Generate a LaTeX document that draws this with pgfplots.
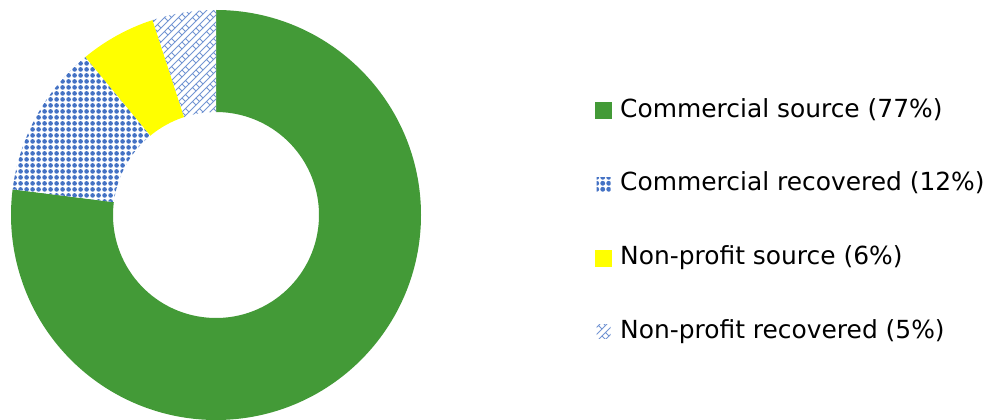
\documentclass[border=0pt]{standalone}
\usepackage{pgfplots}
\pgfplotsset{compat=1.18}
\usepackage{pgfplotstable}
\usepackage{fontspec}
\setmainfont{DejaVu Sans}
\usetikzlibrary{patterns}

\definecolor{csource}{RGB}{67,154,55}
\definecolor{cblue}{RGB}{68,114,196}
\definecolor{cyellow}{RGB}{255,255,0}

% blue dotted fill
\pgfdeclarepatternformonly{bluedots}{\pgfpointorigin}{\pgfpoint{6bp}{6bp}}{\pgfpoint{6bp}{6bp}}{%
  \pgfpathcircle{\pgfpoint{3bp}{3bp}}{2.7bp}
  \pgfusepath{fill}}
% diagonal brick hatch
\pgfdeclarepatternformonly{brick}{\pgfpoint{-1bp}{-1bp}}{\pgfpoint{15bp}{15bp}}{\pgfpoint{14bp}{14bp}}{%
  \pgfsetlinewidth{0.8bp}
  \pgfpathmoveto{\pgfpoint{0bp}{0bp}}\pgfpathlineto{\pgfpoint{14bp}{14bp}}
  \pgfpathmoveto{\pgfpoint{0bp}{7bp}}\pgfpathlineto{\pgfpoint{7bp}{14bp}}
  \pgfpathmoveto{\pgfpoint{7bp}{0bp}}\pgfpathlineto{\pgfpoint{14bp}{7bp}}
  \pgfpathmoveto{\pgfpoint{7bp}{0bp}}\pgfpathlineto{\pgfpoint{3.5bp}{3.5bp}}
  \pgfpathmoveto{\pgfpoint{14bp}{7bp}}\pgfpathlineto{\pgfpoint{10.5bp}{10.5bp}}
  \pgfpathmoveto{\pgfpoint{3.5bp}{10.5bp}}\pgfpathlineto{\pgfpoint{0bp}{14bp}}
  \pgfusepath{stroke}}

\pgfplotstableread{
value
77
12
6
5
}\shares

% cumulative angles, clockwise from the top
\pgfplotstablegetelem{0}{value}\of\shares \let\va\pgfplotsretval
\pgfplotstablegetelem{1}{value}\of\shares \let\vb\pgfplotsretval
\pgfplotstablegetelem{2}{value}\of\shares \let\vc\pgfplotsretval
\pgfplotstablegetelem{3}{value}\of\shares \let\vd\pgfplotsretval
\pgfmathsetmacro\aA{90}
\pgfmathsetmacro\aB{\aA-3.6*\va}
\pgfmathsetmacro\aC{\aB-3.6*\vb}
\pgfmathsetmacro\aD{\aC-3.6*\vc}
\pgfmathsetmacro\aE{\aD-3.6*\vd}

\newcommand\slice[2]{% start, end angle
  (axis cs:216,205) ++(#1:205bp) arc[start angle=#1, end angle=#2, radius=205bp]
  -- ++(#2:-102bp) arc[start angle=#2, end angle=#1, radius=103bp] -- cycle}

\begin{document}
\begin{tikzpicture}
\begin{axis}[
  scale only axis, width=987bp, height=420bp,
  xmin=0, xmax=987, ymin=0, ymax=420,
  hide axis, clip=false,
  legend style={draw=none, fill=none, at={(axis cs:595,322)}, anchor=north west,
    font=\fontsize{25}{30}\selectfont, row sep=48.7bp, inner sep=0pt,
    nodes={text height=19bp, text depth=6bp, inner sep=0pt},
    /tikz/every even column/.append style={column sep=0pt}},
  legend cell align=left,
]
\path (axis cs:0,0) rectangle (axis cs:987,420);
\fill[csource] \slice{\aA}{\aB};
\fill[white] \slice{\aB}{\aC};
\fill[pattern=bluedots, pattern color=cblue] \slice{\aB}{\aC};
\fill[cyellow] \slice{\aC}{\aD};
\fill[white] \slice{\aD}{\aE};
\fill[pattern=brick, pattern color=cblue!75] \slice{\aD}{\aE};

\addlegendimage{draw=none, legend image code/.code={\fill[csource] (0bp,-8.5bp) rectangle (17bp,8.5bp);}}
\addlegendentry{\hspace{8bp}Commercial source (77\%)}
\addlegendimage{draw=none, legend image code/.code={\path[draw=none, pattern=bluedots, pattern color=cblue] (1.5bp,-7bp) rectangle (15.5bp,7bp);}}
\addlegendentry{\hspace{8bp}Commercial recovered (12\%)}
\addlegendimage{draw=none, legend image code/.code={\fill[cyellow] (0bp,-8.5bp) rectangle (17bp,8.5bp);}}
\addlegendentry{\hspace{8bp}Non-profit source (6\%)}
\addlegendimage{draw=none, legend image code/.code={\path[draw=none, pattern=brick, pattern color=cblue!75] (1.5bp,-7bp) rectangle (15.5bp,7bp);}}
\addlegendentry{\hspace{8bp}Non-profit recovered (5\%)}
\end{axis}
\end{tikzpicture}
\end{document}
